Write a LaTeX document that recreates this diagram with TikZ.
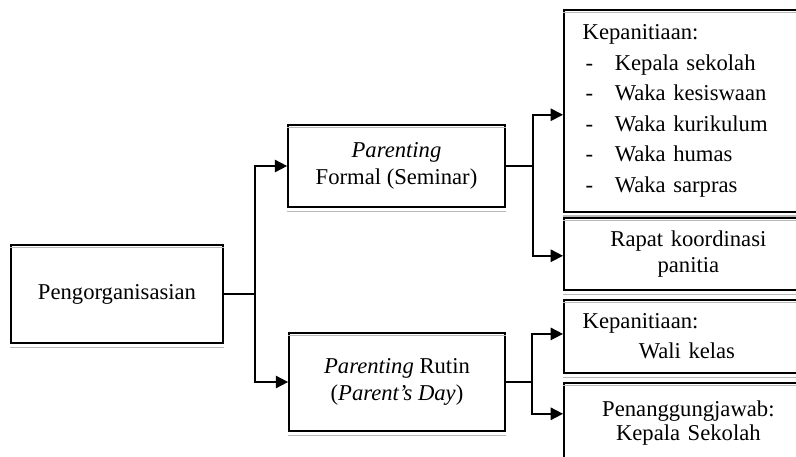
\documentclass[tikz,border=0pt]{standalone}
\usepackage{fontspec}
\setmainfont{Liberation Serif}
\usetikzlibrary{arrows.meta}

\tikzset{
  box/.style={draw, line width=0.9pt, font=\fontsize{12}{14}\selectfont},
  arr/.style={line width=0.9pt, -{Triangle[length=6.5pt,width=6.5pt]}},
  line/.style={line width=0.9pt},
}

\begin{document}
\begin{tikzpicture}[x=0.53pt,y=-0.53pt]
                \useasboundingbox (0,0) rectangle (796,456);
                \clip (0,0) rectangle (796,456);
                % left part
                \node[box, minimum width=112.4pt, minimum height=51.9pt] (org) at (117,294) {Pengorganisasian};
                \node[box, align=center, minimum width=115pt, minimum height=43.5pt] (formal) at (396.5,166) {\textit{Parenting}\\Formal (Seminar)};
                \node[box, align=center, minimum width=114.5pt, minimum height=51.9pt] (rutin) at (397,382) {\textit{Parenting} Rutin\\(\textit{Parent's Day})};
                % right part
                \node[box, anchor=north west, align=left, text width=112pt, inner xsep=10pt, minimum height=107pt,
                      font=\fontsize{12}{16.2}\selectfont] (panitia) at (563,9)
                      {Kepanitiaan:\\
                       \hspace*{1.5pt}\makebox[15.5pt][l]{-}Kepala sekolah\\
                       \hspace*{1.5pt}\makebox[15.5pt][l]{-}Waka kesiswaan\\
                       \hspace*{1.5pt}\makebox[15.5pt][l]{-}Waka kurikulum\\
                       \hspace*{1.5pt}\makebox[15.5pt][l]{-}Waka humas\\
                       \hspace*{1.5pt}\makebox[15.5pt][l]{-}Waka sarpras};
                \node[box, anchor=north west, align=center, text width=112pt, inner xsep=10pt, minimum height=38.2pt,
                      font=\fontsize{12}{13.5}\selectfont] (rapat) at (563,217) {Rapat koordinasi\\panitia};
                \node[box, anchor=north west, align=left, text width=112pt, inner xsep=10pt, minimum height=38.7pt,
                      font=\fontsize{12}{16}\selectfont] (wali) at (563,299) {Kepanitiaan:\\\hspace*{29.7pt}Wali kelas};
                \node[box, anchor=north west, align=center, text width=112pt, inner xsep=10pt, minimum height=42.4pt,
                      font=\fontsize{12}{12.5}\selectfont] (pj) at (563,382) {Penanggungjawab:\\Kepala Sekolah};
                % grey second line of the frames
                \foreach \b in {org,formal,rutin,panitia,rapat,wali,pj}{
                  \draw[gray!55, line width=0.6pt] ([yshift=-1.8pt]\b.north west) -- ([yshift=-1.8pt]\b.north east);
                  \draw[gray!55, line width=0.6pt] ([yshift=-1.8pt]\b.south west) -- ([yshift=-1.8pt]\b.south east);
                }
                % connectors
                \coordinate (j1) at (255,294);
                \coordinate (j2) at (533,166);
                \coordinate (j3) at (532,382);
                \draw[line] (org) -- (j1);
                \draw[arr] (j1) |- (formal);
                \draw[arr] (j1) |- (rutin);
                \draw[line] (formal) -- (j2);
                \draw[arr] (j2) |- ([yshift=-2.1pt]panitia.west);
                \draw[arr] (j2) |- ([yshift=-1pt]rapat.west);
                \draw[line] (rutin) -- (j3);
                \draw[arr] (j3) |- ([yshift=1.3pt]wali.west);
                \draw[arr] (j3) |- ([yshift=4.8pt]pj.west);
            \end{tikzpicture}
\end{document}
